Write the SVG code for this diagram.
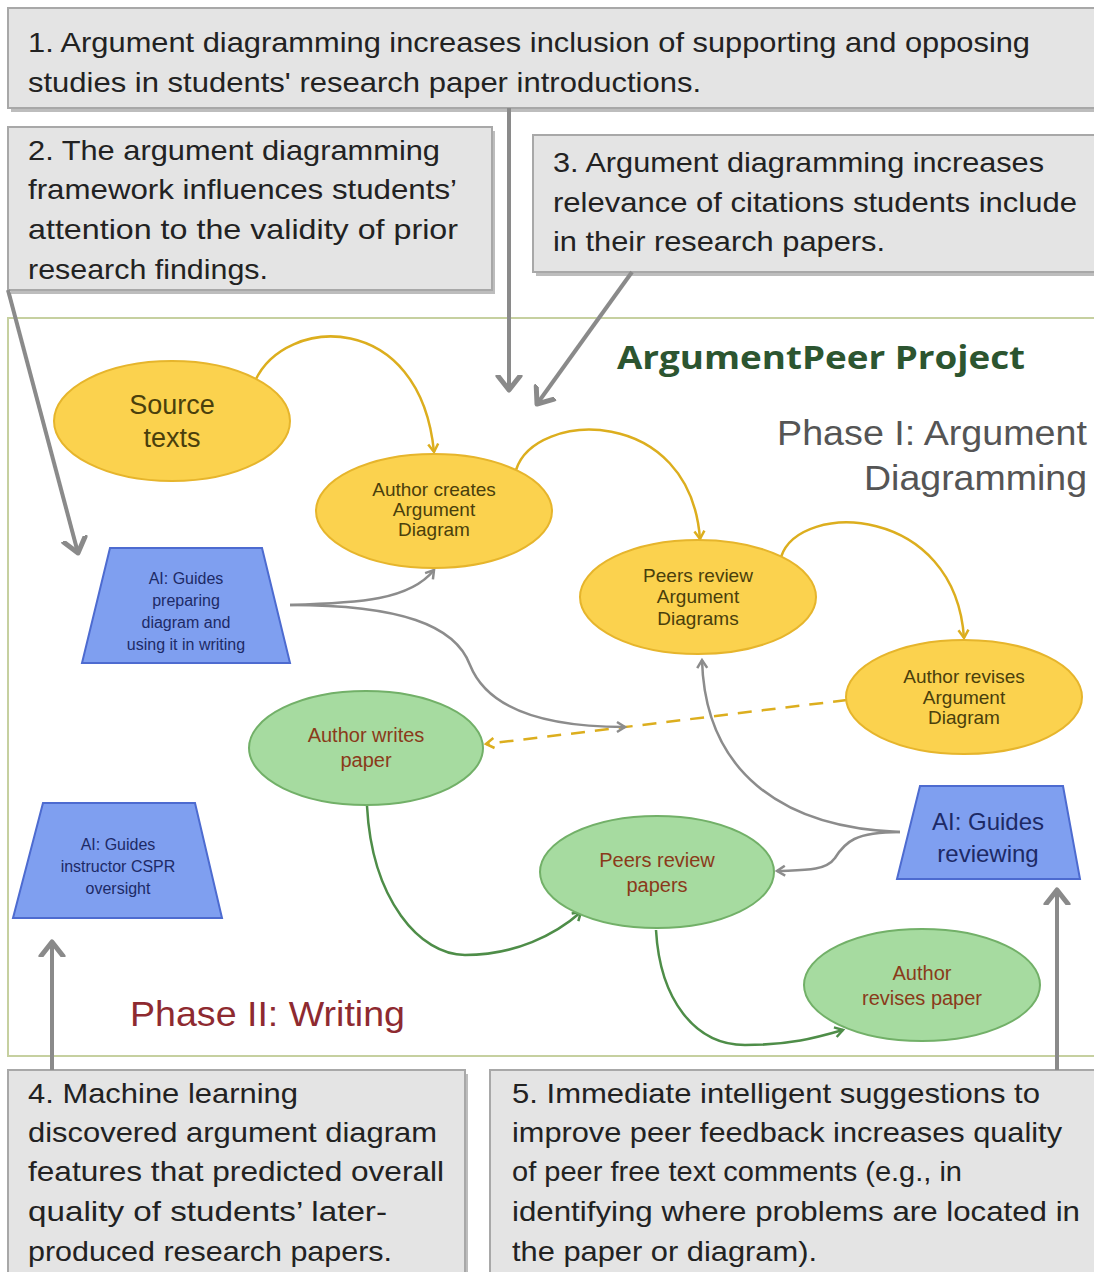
<svg xmlns="http://www.w3.org/2000/svg" width="1094" height="1272" viewBox="0 0 1094 1272">
<style>
.box{fill:#e4e4e4;stroke:#a8a8a8;stroke-width:2}
.shadow{fill:#bdbdbd}
.bt{font-family:"Liberation Sans",Arial,sans-serif;font-size:28px;fill:#222}
.yel{fill:#fbd24e;stroke:#e6b52c;stroke-width:2}
.grn{fill:#a6dba0;stroke:#72b068;stroke-width:2}
.blu{fill:#7f9ff0;stroke:#4d6bd0;stroke-width:2}
.yt{font-family:"Liberation Sans",Arial,sans-serif;fill:#4a3f0c;text-anchor:middle}
.gt{font-family:"Liberation Sans",Arial,sans-serif;fill:#8a3a1a;text-anchor:middle}
.at{font-family:"Liberation Sans",Arial,sans-serif;fill:#1d2a66;text-anchor:middle}
.big{stroke:#8a8a8a;stroke-width:4;fill:none}
.cy{stroke:#dcae1e;stroke-width:2.5;fill:none}
.cg{stroke:#8c8c8c;stroke-width:2.5;fill:none}
.cn{stroke:#4e8d48;stroke-width:2.5;fill:none}
</style>
<defs>
<marker id="bigHead" markerUnits="userSpaceOnUse" markerWidth="30" markerHeight="30" viewBox="-15 -15 30 30" refX="0" refY="0" orient="auto">
<path d="M-14,-11 L0,0 L-14,11" fill="none" stroke="#8a8a8a" stroke-width="5" stroke-linecap="round" stroke-linejoin="round"/>
</marker>
<marker id="yHead" markerUnits="userSpaceOnUse" markerWidth="20" markerHeight="20" viewBox="-10 -10 20 20" refX="0" refY="0" orient="auto">
<path d="M-8,-5 L0,0 L-8,5" fill="none" stroke="#dcae1e" stroke-width="2.5"/>
</marker>
<marker id="gHead" markerUnits="userSpaceOnUse" markerWidth="20" markerHeight="20" viewBox="-10 -10 20 20" refX="0" refY="0" orient="auto">
<path d="M-8,-5 L0,0 L-8,5" fill="none" stroke="#8c8c8c" stroke-width="2.5"/>
</marker>
<marker id="nHead" markerUnits="userSpaceOnUse" markerWidth="20" markerHeight="20" viewBox="-10 -10 20 20" refX="0" refY="0" orient="auto">
<path d="M-8,-5 L0,0 L-8,5" fill="none" stroke="#4e8d48" stroke-width="2.5"/>
</marker>
</defs>
<rect width="1094" height="1272" fill="#ffffff"/>

<!-- main frame -->
<rect id="frame" x="8" y="318" width="1090" height="738" fill="none" stroke="#c6d0a0" stroke-width="2"/>

<g id="box1">
<rect class="shadow" x="11" y="12" width="1090" height="100"/>
<rect class="box" x="8" y="8" width="1090" height="100"/>
<text class="bt" x="28" y="52" textLength="1002" lengthAdjust="spacingAndGlyphs">1. Argument diagramming increases inclusion of supporting and opposing</text>
<text class="bt" x="28" y="92" textLength="673" lengthAdjust="spacingAndGlyphs">studies in students' research paper introductions.</text>
</g>

<g id="box2">
<rect class="shadow" x="11" y="131" width="484" height="163"/>
<rect class="box" x="8" y="127" width="484" height="163"/>
<text class="bt" x="28" y="160" textLength="412" lengthAdjust="spacingAndGlyphs">2. The argument diagramming</text>
<text class="bt" x="28" y="199" textLength="429" lengthAdjust="spacingAndGlyphs">framework influences students’</text>
<text class="bt" x="28" y="239" textLength="430" lengthAdjust="spacingAndGlyphs">attention to the validity of prior</text>
<text class="bt" x="28" y="279" textLength="240" lengthAdjust="spacingAndGlyphs">research findings.</text>
</g>

<g id="box3">
<rect class="shadow" x="536" y="139" width="565" height="137"/>
<rect class="box" x="533" y="135" width="565" height="137"/>
<text class="bt" x="553" y="172" textLength="491" lengthAdjust="spacingAndGlyphs">3. Argument diagramming increases</text>
<text class="bt" x="553" y="212" textLength="524" lengthAdjust="spacingAndGlyphs">relevance of citations students include</text>
<text class="bt" x="553" y="251" textLength="332" lengthAdjust="spacingAndGlyphs">in their research papers.</text>
</g>

<g id="box4">
<rect class="shadow" x="11" y="1074" width="457" height="210"/>
<rect class="box" x="8" y="1070" width="457" height="210"/>
<text class="bt" x="28" y="1103" textLength="270" lengthAdjust="spacingAndGlyphs">4. Machine learning</text>
<text class="bt" x="28" y="1142" textLength="409" lengthAdjust="spacingAndGlyphs">discovered argument diagram</text>
<text class="bt" x="28" y="1181" textLength="416" lengthAdjust="spacingAndGlyphs">features that predicted overall</text>
<text class="bt" x="28" y="1221" textLength="359" lengthAdjust="spacingAndGlyphs">quality of students’ later-</text>
<text class="bt" x="28" y="1261" textLength="364" lengthAdjust="spacingAndGlyphs">produced research papers.</text>
</g>

<g id="box5">
<rect class="shadow" x="493" y="1074" width="608" height="210"/>
<rect class="box" x="490" y="1070" width="608" height="210"/>
<text class="bt" x="512" y="1103" textLength="528" lengthAdjust="spacingAndGlyphs">5. Immediate intelligent suggestions to</text>
<text class="bt" x="512" y="1142" textLength="550" lengthAdjust="spacingAndGlyphs">improve peer feedback increases quality</text>
<text class="bt" x="512" y="1181" textLength="450" lengthAdjust="spacingAndGlyphs">of peer free text comments (e.g., in</text>
<text class="bt" x="512" y="1221" textLength="568" lengthAdjust="spacingAndGlyphs">identifying where problems are located in</text>
<text class="bt" x="512" y="1261" textLength="305" lengthAdjust="spacingAndGlyphs">the paper or diagram).</text>
</g>

<g id="titles">
<text x="617" y="369" font-family="'Open Sans','Liberation Sans',sans-serif" font-weight="bold" font-size="33" fill="#2c5530" textLength="408" lengthAdjust="spacingAndGlyphs">ArgumentPeer Project</text>
<text x="777" y="445" font-family="'Liberation Sans',Arial,sans-serif" font-size="35" fill="#555555" textLength="310" lengthAdjust="spacingAndGlyphs">Phase I: Argument</text>
<text x="864" y="490" font-family="'Liberation Sans',Arial,sans-serif" font-size="35" fill="#555555" textLength="223" lengthAdjust="spacingAndGlyphs">Diagramming</text>
<text x="130" y="1026" font-family="'Liberation Sans',Arial,sans-serif" font-size="35" fill="#8e2a30" textLength="275" lengthAdjust="spacingAndGlyphs">Phase II: Writing</text>
</g>

<g id="connectors">
<!-- yellow flow -->
<path class="cy" d="M255,381 C285,315 420,310 434,452" marker-end="url(#yHead)"/>
<path class="cy" d="M516,470 C535,410 690,405 700,539" marker-end="url(#yHead)"/>
<path class="cy" d="M781,557 C800,500 955,505 964,638" marker-end="url(#yHead)"/>
<path class="cy" d="M847,700 L486,744" stroke-dasharray="14,10" stroke-width="4" marker-end="url(#yHead)"/>
<!-- gray AI -->
<path class="cg" d="M290,605 C360,603 410,600 434,570" marker-end="url(#gHead)"/>
<path class="cg" d="M290,605 C400,605 455,625 470,665 C490,715 560,727 625,727" marker-end="url(#gHead)"/>
<path class="cg" d="M900,832 C780,828 705,770 702,660" marker-end="url(#gHead)"/>
<path class="cg" d="M900,832 C855,832 845,842 835,858 C825,872 800,870 777,871" marker-end="url(#gHead)"/>
<!-- green flow -->
<path class="cn" d="M367,806 C372,900 420,955 465,955 C515,955 555,935 581,912" marker-end="url(#nHead)"/>
<path class="cn" d="M656,930 C660,1000 695,1045 745,1045 C790,1045 815,1038 843,1030" marker-end="url(#nHead)"/>
<!-- big annotation arrows -->
<path class="big" d="M509,108 L509,390" marker-end="url(#bigHead)"/>
<path class="big" d="M632,272 L537,404" marker-end="url(#bigHead)"/>
<path class="big" d="M8,290 L78,553" marker-end="url(#bigHead)"/>
<path class="big" d="M52,1070 L52,942" marker-end="url(#bigHead)"/>
<path class="big" d="M1057,1070 L1057,890" marker-end="url(#bigHead)"/>
</g>

<g id="source-texts">
<ellipse class="yel" cx="172" cy="421" rx="118" ry="60"/>
<text class="yt" x="172" y="414" font-size="27">Source</text>
<text class="yt" x="172" y="447" font-size="27">texts</text>
</g>

<g id="author-creates">
<ellipse class="yel" cx="434" cy="511" rx="118" ry="57"/>
<text class="yt" x="434" y="496" font-size="19">Author creates</text>
<text class="yt" x="434" y="516" font-size="19">Argument</text>
<text class="yt" x="434" y="536" font-size="19">Diagram</text>
</g>

<g id="peers-review-diagrams">
<ellipse class="yel" cx="698" cy="597" rx="118" ry="57"/>
<text class="yt" x="698" y="582" font-size="19">Peers review</text>
<text class="yt" x="698" y="603" font-size="19">Argument</text>
<text class="yt" x="698" y="625" font-size="19">Diagrams</text>
</g>

<g id="author-revises-diagram">
<ellipse class="yel" cx="964" cy="697" rx="118" ry="57"/>
<text class="yt" x="964" y="683" font-size="19">Author revises</text>
<text class="yt" x="964" y="704" font-size="19">Argument</text>
<text class="yt" x="964" y="724" font-size="19">Diagram</text>
</g>

<g id="author-writes">
<ellipse class="grn" cx="366" cy="748" rx="117" ry="57"/>
<text class="gt" x="366" y="742" font-size="20">Author writes</text>
<text class="gt" x="366" y="767" font-size="20">paper</text>
</g>

<g id="peers-review-papers">
<ellipse class="grn" cx="657" cy="872" rx="117" ry="56"/>
<text class="gt" x="657" y="867" font-size="20">Peers review</text>
<text class="gt" x="657" y="892" font-size="20">papers</text>
</g>

<g id="author-revises-paper">
<ellipse class="grn" cx="922" cy="985" rx="118" ry="56"/>
<text class="gt" x="922" y="980" font-size="20">Author</text>
<text class="gt" x="922" y="1005" font-size="20">revises paper</text>
</g>

<g id="ai-preparing">
<polygon class="blu" points="110,548 262,548 290,663 82,663"/>
<text class="at" x="186" y="584" font-size="16">AI: Guides</text>
<text class="at" x="186" y="606" font-size="16">preparing</text>
<text class="at" x="186" y="628" font-size="16">diagram and</text>
<text class="at" x="186" y="650" font-size="16">using it in writing</text>
</g>

<g id="ai-instructor">
<polygon class="blu" points="43,803 195,803 222,918 13,918"/>
<text class="at" x="118" y="850" font-size="16">AI: Guides</text>
<text class="at" x="118" y="872" font-size="16">instructor CSPR</text>
<text class="at" x="118" y="894" font-size="16">oversight</text>
</g>

<g id="ai-reviewing">
<polygon class="blu" points="920,786 1063,786 1080,879 897,879"/>
<text class="at" x="988" y="830" font-size="24">AI: Guides</text>
<text class="at" x="988" y="862" font-size="24">reviewing</text>
</g>
</svg>
